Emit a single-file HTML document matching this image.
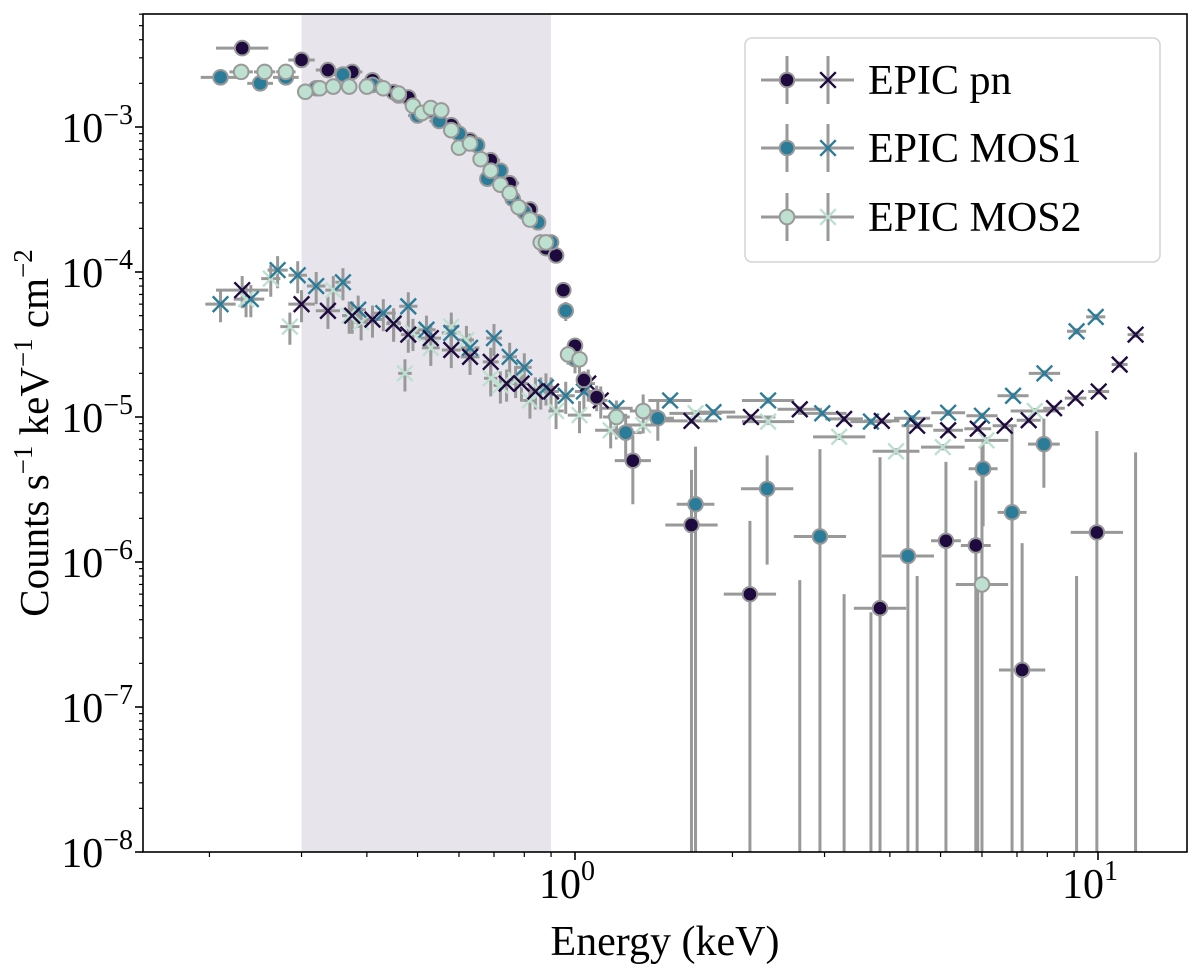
<!DOCTYPE html>
<html><head><meta charset="utf-8"><style>
html,body{margin:0;padding:0;background:#fff;}
svg{display:block;font-family:"Liberation Serif",serif;}
</style></head><body>
<svg id="chart" width="1200" height="968" viewBox="0 0 1200 968" xmlns="http://www.w3.org/2000/svg">
<defs><clipPath id="plotclip"><rect x="143" y="14" width="1044" height="838"/></clipPath></defs>
<rect x="0" y="0" width="1200" height="968" fill="#fff"/>
<rect id="band" y="14" height="838" fill="#e8e4ec"/>
<g id="marks" clip-path="url(#plotclip)"></g>
<rect x="143" y="14" width="1044" height="838" fill="none" stroke="#000" stroke-width="1.6"/>
<g id="axes"></g>
<text x="665" y="955" font-size="42" text-anchor="middle">Energy (keV)</text>
<text transform="translate(48,433) rotate(-90)" font-size="41" text-anchor="middle">Counts s<tspan font-size="27" dy="-16">−1</tspan><tspan dy="16"> keV</tspan><tspan font-size="27" dy="-16">−1</tspan><tspan dy="16"> cm</tspan><tspan font-size="27" dy="-16">−2</tspan></text>
<g id="legend">
<rect x="745" y="38" width="415" height="224" rx="7" fill="#fff" fill-opacity="0.85" stroke="#d4d4d4" stroke-width="1.5"/>
</g>
</svg>
<script>
const pnCircE=[0.231,0.30,0.337,0.375,0.41,0.45,0.48,0.53,0.58,0.63,0.69,0.75,0.82,0.88,0.92,0.95,1.0,1.04,1.10,1.29,1.67,2.16,3.83,5.12,5.84,7.16,9.95];
const pnCircV=[3.5e-3,2.9e-3,2.47e-3,2.4e-3,2.1e-3,1.74e-3,1.6e-3,1.3e-3,1.03e-3,8.1e-4,5.9e-4,4.1e-4,2.7e-4,1.46e-4,1.3e-4,7.5e-5,3.1e-5,1.8e-5,1.37e-5,5e-6,1.8e-6,6e-7,4.8e-7,1.4e-6,1.3e-6,1.8e-7,1.6e-6];
const pnCircErr=[0.05,0.05,0.05,0.05,0.05,0.05,0.05,0.05,0.05,0.05,0.05,0.05,0.05,0.06,0.06,0.08,0.12,0.15,0.2,0.5,1.4,2.2,10,2.5,1.8,6.5,4];
const m1CircE=[0.21,0.25,0.28,0.32,0.36,0.41,0.46,0.50,0.55,0.60,0.65,0.68,0.72,0.76,0.80,0.85,0.90,0.96,1.0,1.25,1.44,1.70,2.33,2.94,4.33,6.03,6.85,7.88];
const m1CircV=[2.2e-3,2.0e-3,2.2e-3,1.85e-3,2.3e-3,1.95e-3,1.65e-3,1.2e-3,1.1e-3,9e-4,7.5e-4,4.4e-4,5e-4,3.2e-4,2.6e-4,2.2e-4,1.6e-4,5.4e-5,2.5e-5,7.8e-6,9.8e-6,2.5e-6,3.2e-6,1.5e-6,1.1e-6,4.4e-6,2.2e-6,6.5e-6];
const m1CircErr=[0.05,0.05,0.05,0.05,0.05,0.05,0.05,0.05,0.05,0.05,0.06,0.06,0.06,0.06,0.06,0.07,0.08,0.15,0.2,0.35,0.3,1.5,0.7,3,8,0.6,3,0.5];
const m2CircE=[0.23,0.255,0.28,0.305,0.325,0.345,0.37,0.40,0.43,0.46,0.49,0.51,0.53,0.555,0.58,0.60,0.63,0.66,0.69,0.72,0.75,0.78,0.82,0.86,0.88,0.97,1.02,1.2,1.35,6.0];
const m2CircV=[2.4e-3,2.4e-3,2.4e-3,1.75e-3,1.85e-3,1.9e-3,1.9e-3,1.9e-3,1.85e-3,1.7e-3,1.4e-3,1.25e-3,1.35e-3,1.3e-3,9.5e-4,7.2e-4,7.7e-4,6e-4,5e-4,4e-4,3.5e-4,2.8e-4,2.3e-4,1.6e-4,1.6e-4,2.7e-5,2.5e-5,1.0e-5,1.1e-5,7e-7];
const m2CircErr=[0.05,0.05,0.05,0.05,0.05,0.05,0.05,0.05,0.05,0.05,0.05,0.05,0.05,0.05,0.05,0.05,0.05,0.06,0.06,0.06,0.06,0.07,0.07,0.08,0.08,0.15,0.2,0.3,0.3,8];
const pnXE=[0.231,0.30,0.337,0.375,0.41,0.45,0.48,0.53,0.58,0.63,0.69,0.74,0.79,0.84,0.90,1.06,1.12,1.67,2.17,2.69,3.27,3.86,4.51,5.17,5.89,6.63,7.37,8.24,9.06,10.03,11.0,11.8];
const pnXV=[7.5e-5,6e-5,5.4e-5,5e-5,4.7e-5,4.4e-5,3.7e-5,3.5e-5,2.9e-5,2.6e-5,2.4e-5,1.7e-5,1.7e-5,1.5e-5,1.5e-5,1.7e-5,1.3e-5,9.4e-6,1.0e-5,1.13e-5,9.7e-6,9.4e-6,8.7e-6,8.1e-6,8.3e-6,8.7e-6,9.5e-6,1.15e-5,1.35e-5,1.5e-5,2.3e-5,3.7e-5];
const m1XE=[0.21,0.24,0.27,0.295,0.32,0.36,0.385,0.43,0.48,0.52,0.58,0.63,0.70,0.75,0.80,0.88,0.96,1.04,1.2,1.52,1.84,2.34,2.97,3.68,4.41,5.17,6.0,6.88,7.9,9.1,9.9];
const m1XV=[6e-5,6.5e-5,1.03e-4,9.5e-5,8e-5,8.5e-5,5.5e-5,5.2e-5,5.8e-5,4e-5,3.8e-5,3e-5,3.5e-5,2.6e-5,2.2e-5,1.6e-5,1.4e-5,1.5e-5,1.15e-5,1.3e-5,1.08e-5,1.3e-5,1.06e-5,9.3e-6,9.8e-6,1.07e-5,1.02e-5,1.4e-5,2.0e-5,3.9e-5,4.9e-5];
const m2XE=[0.235,0.262,0.285,0.345,0.37,0.39,0.45,0.473,0.49,0.53,0.58,0.62,0.69,0.72,0.77,0.82,0.86,0.92,1.02,1.17,1.35,1.70,2.34,3.20,4.11,5.05,6.12,7.57];
const m2XV=[6.5e-5,9e-5,4.2e-5,7.5e-5,5e-5,4.5e-5,4.5e-5,2e-5,3.8e-5,3e-5,4.2e-5,3.4e-5,1.85e-5,1.65e-5,1.8e-5,1.3e-5,1.5e-5,1.1e-5,1.03e-5,8.1e-6,8.8e-6,1.06e-5,9.3e-6,7.3e-6,5.8e-6,6.2e-6,6.9e-6,1.1e-5];
const limE=[1.70,2.69,3.27,3.68,4.51,5.89,9.1,11.8];
const limV=[1e-6,7.5e-7,6e-7,4.5e-7,8e-7,6.5e-7,8e-7,5.7e-6];
const bandRange=[0.3,0.9];
const yTicks=[-8,-7,-6,-5,-4,-3];
const xTicks=[0,1];

const NS='http://www.w3.org/2000/svg';
const xs=e=>575+523*Math.log10(e);
const ys=v=>127-145*(Math.log10(v)+3);
const BOT=852;
const COL={pn:'#1f0a3f',m1:'#2b7c99',m2:'#bde0d0'};
const GRAY='#999999';
const R=7.3, S=7.8;
function mk(tag,attrs,parent){const el=document.createElementNS(NS,tag);for(const k in attrs)el.setAttribute(k,attrs[k]);parent.appendChild(el);return el;}
const marks=document.getElementById('marks');
const axes=document.getElementById('axes');
const band=document.getElementById('band');
band.setAttribute('x',xs(bandRange[0]));band.setAttribute('width',xs(bandRange[1])-xs(bandRange[0]));

function halfW(E,i){
  const l=Math.log10(E[i]);let d=1;
  if(i>0)d=Math.min(d,l-Math.log10(E[i-1]));
  if(i<E.length-1)d=Math.min(d,Math.log10(E[i+1])-l);
  d=Math.max(0.026,Math.min(0.1,d))/2;return d;
}
const errLayer=mk('g',{},marks);
const markLayer=mk('g',{},marks);
function errbar(E,V,i,f,name){
  const e=E[i],v=V[i];const hw=halfW(E,i);
  const x=xs(e),y=ys(v);
  const lo=v*(1-f)>0?ys(v*(1-f)):BOT+5;const hi=ys(v*(1+f));
  const g=mk('g',{},errLayer);
  
  
  mk('line',{x1:x,x2:x,y1:hi,y2:Math.min(lo,BOT+5),stroke:GRAY,'stroke-width':3},g);
  mk('line',{x1:xs(e*Math.pow(10,-hw)),x2:xs(e*Math.pow(10,hw)),y1:y,y2:y,stroke:GRAY,'stroke-width':3},g);
}
function circles(E,V,F,col,name){
  for(let i=0;i<E.length;i++){
    errbar(E,V,i,F[i],name);
    const c=mk('circle',{cx:xs(E[i]),cy:ys(V[i]),r:R,fill:col,stroke:GRAY,'stroke-width':2},markLayer);
    
    
  }
}
function crosses(E,V,col,name){
  for(let i=0;i<E.length;i++){
    const f=E[i]<1.2?0.25:0.05;
    errbar(E,V,i,f,name);
    const x=xs(E[i]),y=ys(V[i]),s=S;
    const p=mk('path',{d:`M${x-s},${y-s}L${x+s},${y+s}M${x-s},${y+s}L${x+s},${y-s}`,stroke:col,'stroke-width':2.4,fill:'none'},markLayer);
    
    
  }
}
for(let i=0;i<limE.length;i++){
  const l=mk('line',{x1:xs(limE[i]),x2:xs(limE[i]),y1:ys(limV[i]),y2:BOT+5,stroke:GRAY,'stroke-width':3},errLayer);
  
  
}
crosses(m2XE,m2XV,COL.m2,'mos2-background');
crosses(m1XE,m1XV,COL.m1,'mos1-background');
crosses(pnXE,pnXV,COL.pn,'pn-background');
circles(pnCircE,pnCircV,pnCircErr,COL.pn,'pn-source');
circles(m1CircE,m1CircV,m1CircErr,COL.m1,'mos1-source');
circles(m2CircE,m2CircV,m2CircErr,COL.m2,'mos2-source');
yTicks.forEach(k=>{
  const y=ys(Math.pow(10,k));
  mk('line',{x1:135,x2:143,y1:y,y2:y,stroke:'#000','stroke-width':1.6},axes);
  const t=mk('text',{x:133,y:y+15,'font-size':42,'text-anchor':'end'},axes);
  
  
  t.innerHTML='10<tspan font-size="28" dy="-18">−'+Math.abs(k)+'</tspan>';
  for(let m=2;m<=9;m++){const v=m*Math.pow(10,k);const yy=ys(v);if(yy<14)continue;
    mk('line',{x1:139,x2:143,y1:yy,y2:yy,stroke:'#000','stroke-width':1.2},axes);}
});
xTicks.forEach(k=>{
  const x=xs(Math.pow(10,k));
  mk('line',{x1:x,x2:x,y1:852,y2:860,stroke:'#000','stroke-width':1.6},axes);
  const t=mk('text',{x:x-8,y:898,'font-size':42,'text-anchor':'middle'},axes);
  
  
  t.innerHTML='10<tspan font-size="28" dy="-18">'+k+'</tspan>';
});
[-1,0,1].forEach(k=>{for(let m=2;m<=9;m++){const x=xs(m*Math.pow(10,k));if(x<143||x>1187)continue;
  mk('line',{x1:x,x2:x,y1:852,y2:857,stroke:'#000','stroke-width':1.2},axes);}});
const leg=document.getElementById('legend');
[['EPIC pn',COL.pn,80],['EPIC MOS1',COL.m1,148],['EPIC MOS2',COL.m2,217]].forEach(([lab,col,y])=>{
  const g=mk('g',{},leg);
  
  
  [787,828].forEach((x,j)=>{
    mk('line',{x1:x,x2:x,y1:y-24,y2:y+24,stroke:GRAY,'stroke-width':3},g);
    mk('line',{x1:x-26,x2:x+26,y1:y,y2:y,stroke:GRAY,'stroke-width':3},g);
    if(j===0)mk('circle',{cx:x,cy:y,r:R,fill:col,stroke:GRAY,'stroke-width':2},g);
    else mk('path',{d:`M${x-S},${y-S}L${x+S},${y+S}M${x-S},${y+S}L${x+S},${y-S}`,stroke:col,'stroke-width':2.4},g);
  });
  const t=mk('text',{x:868,y:y+14,'font-size':42},g);
  t.textContent=lab;
});
</script>
</body></html>
